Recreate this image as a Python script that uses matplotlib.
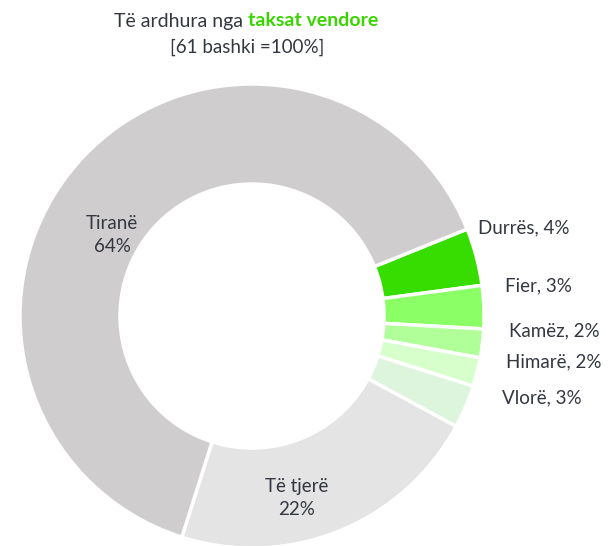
import matplotlib
matplotlib.use("Agg")
import matplotlib.pyplot as plt

# ---- data ----
categories = ["Durrës", "Fier", "Kamëz", "Himarë", "Vlorë", "Të tjerë", "Tiranë"]
shares = [4, 3, 2, 2, 3, 22, 64]
colors = ["#38DD00", "#8BFF66", "#B1FF99", "#D7FFCC", "#DCF5DC", "#E4E4E4", "#CFCDCE"]
title_plain = "Të ardhura nga "
title_bold = "taksat vendore"
subtitle = "[61 bashki =100%]"

# ---- layout ----
W, H = 611, 546
plt.rcParams['font.family'] = ['Lato', 'DejaVu Sans']
fig = plt.figure(figsize=(W / 100, H / 100), dpi=100)
ax = fig.add_axes([0, 0, 1, 1])

cx, cy = 252, H - 316
R = 232
ring = 100
wedges, _ = ax.pie(shares, center=(cx, cy), radius=R, startangle=22,
                   counterclock=False, colors=colors,
                   explode=[0.022] * len(shares),
                   wedgeprops=dict(width=ring, edgecolor='white', linewidth=2.5))
ax.set_xlim(0, W)
ax.set_ylim(0, H)
ax.set_aspect('equal')
ax.axis('off')

txt_color = "#333740"
fs = 13.5
# inner labels
ax.text(112, H - 235, "Tiranë\n64%", ha='center', va='center', fontsize=fs,
        color=txt_color, linespacing=1.45)
ax.text(297, H - 498, "Të tjerë\n22%", ha='center', va='center', fontsize=fs,
        color=txt_color, linespacing=1.45)

# outer labels
outer_pos = [(478, 228), (505, 286), (509, 331), (506, 362), (502, 398)]
for name, val, (x, y) in zip(categories[:5], shares[:5], outer_pos):
    ax.text(x, H - y, f"{name}, {val}%", ha='left', va='center', fontsize=fs,
            color=txt_color)

# title with two colours
fig.canvas.draw()
r = fig.canvas.get_renderer()
t1 = ax.text(0, H - 21, title_plain, ha='left', va='center', fontsize=14,
             color=txt_color)
t2 = ax.text(0, H - 21, title_bold, ha='left', va='center', fontsize=14,
             color="#3AD400", fontweight='bold')
w1 = t1.get_window_extent(r).width
w2 = t2.get_window_extent(r).width
x0 = 246 - (w1 + w2) / 2
t1.set_x(x0)
t2.set_x(x0 + w1)
ax.text(247, H - 47, subtitle, ha='center', va='center', fontsize=13.5,
        color=txt_color)

fig.savefig("out.png", dpi=100)
